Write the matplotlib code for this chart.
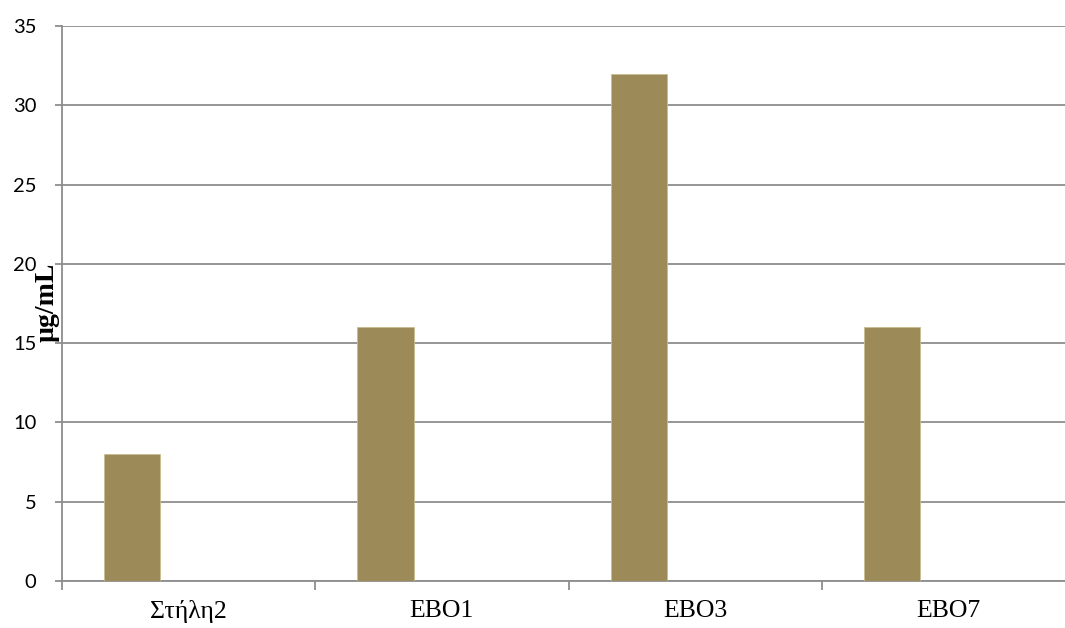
import matplotlib
matplotlib.use("Agg")
import matplotlib.pyplot as plt
from matplotlib.ticker import FixedLocator, NullFormatter

categories = ["Στήλη2", "EBO1", "EBO3", "EBO7"]
values = [8, 16, 32, 16]
y_ticks = [0, 5, 10, 15, 20, 25, 30, 35]
y_label = "µg/mL"

BAR_COLOR = "#9c8a58"
GRID_COLOR = "#8e8e8e"

W, H = 1065, 628
fig = plt.figure(figsize=(W / 100, H / 100), dpi=100)

# plot area in pixels: left edge 62, top at 26, baseline at 581
left_px, top_px, bottom_px = 62, 26, 581
cat_w_px = 253.25
ax = fig.add_axes([left_px / W, 1 - bottom_px / H,
                   1 - left_px / W, (bottom_px - top_px) / H])

n_series = 3          # clustered layout with room for three series
gap = 1.5             # gap width relative to one bar
bar_w = 1.0 / (n_series + gap)
offset = gap * bar_w / 2 + bar_w / 2

xs = [i + offset for i in range(len(categories))]
ax.bar(xs, values, width=bar_w, color=BAR_COLOR, edgecolor="#c9bd8f",
       linewidth=0.6, zorder=3)

ax.set_xlim(0, (W - left_px) / cat_w_px)
ax.set_ylim(0, 35)

# horizontal gridlines
ax.yaxis.set_major_locator(FixedLocator(y_ticks))
ax.grid(axis="y", color=GRID_COLOR, linewidth=1.3, zorder=0)
ax.set_axisbelow(True)

for s in ["top", "right"]:
    ax.spines[s].set_visible(False)
for s in ["left", "bottom"]:
    ax.spines[s].set_color(GRID_COLOR)
    ax.spines[s].set_linewidth(1.3)

ax.tick_params(axis="y", direction="out", length=5, width=1.3,
               color=GRID_COLOR, pad=13.5, labelsize=14.5)
for lbl in ax.get_yticklabels():
    lbl.set_fontfamily("Lato")

# category boundary ticks and centered labels
ax.xaxis.set_major_locator(FixedLocator(range(len(categories) + 1)))
ax.xaxis.set_major_formatter(NullFormatter())
ax.set_xticks([i + 0.5 for i in range(len(categories))], labels=categories, minor=True)
ax.tick_params(axis="x", which="major", direction="out", length=6.5, width=1.3,
               color=GRID_COLOR)
ax.tick_params(axis="x", which="minor", length=0, pad=13.5, labelsize=18.5)
for lbl in ax.get_xticklabels(minor=True):
    lbl.set_fontfamily("Liberation Serif")

fig.text(47 / W, 1 - 302 / H, y_label, rotation=90, ha="center", va="center",
         fontsize=20, fontweight="bold", family="Liberation Serif")

fig.savefig("out.png", dpi=100, facecolor="white")
